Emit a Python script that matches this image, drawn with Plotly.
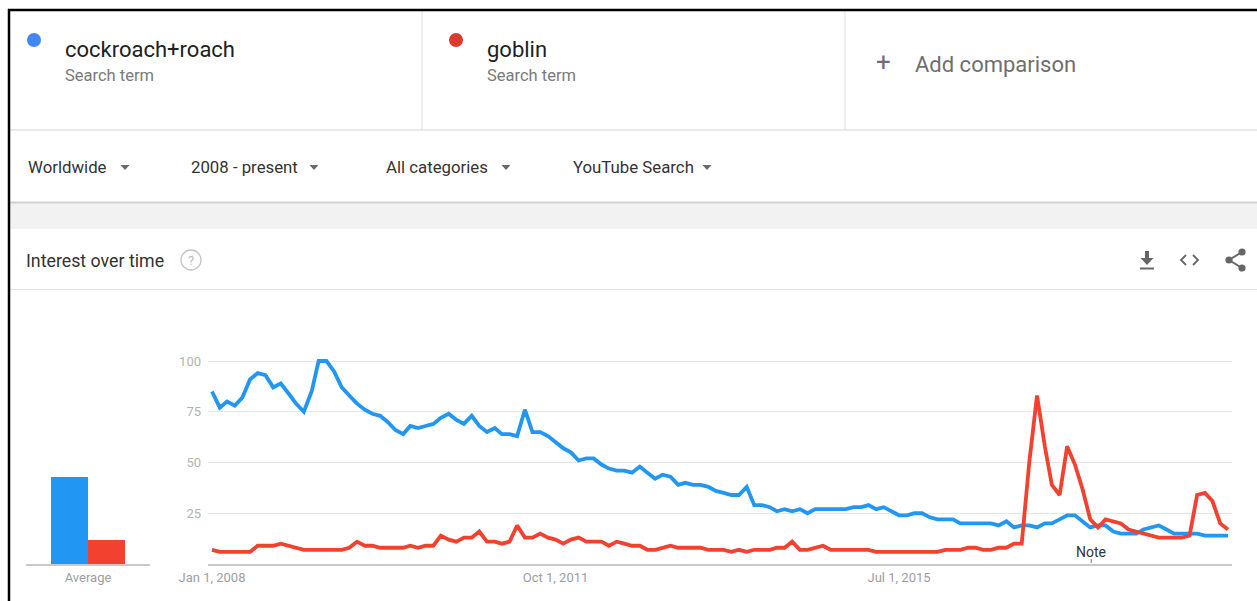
import plotly.graph_objects as go
import pandas as pd

W, H = 1257, 601

# ---------------- data ----------------
terms = ["cockroach+roach", "goblin"]
start_month = "2008-01-01"
cockroach = [85, 77, 80, 78, 82, 91, 94, 93, 87, 89, 84, 79, 75, 85, 100, 100, 95, 87, 83, 79,
             76, 74, 73, 70, 66, 64, 68, 67, 68, 69, 72, 74, 71, 69, 73, 68, 65, 67, 64, 64,
             63, 76, 65, 65, 63, 60, 57, 55, 51, 52, 52, 49, 47, 46, 46, 45, 48, 45, 42, 44,
             43, 39, 40, 39, 39, 38, 36, 35, 34, 34, 38, 29, 29, 28, 26, 27, 26, 27, 25, 27,
             27, 27, 27, 27, 28, 28, 29, 27, 28, 26, 24, 24, 25, 25, 23, 22, 22, 22, 20, 20,
             20, 20, 20, 19, 21, 18, 19, 19, 18, 20, 20, 22, 24, 24, 21, 18, 19, 19, 16, 15,
             15, 15, 17, 18, 19, 17, 15, 15, 15, 15, 14, 14, 14, 14]
goblin = [7, 6, 6, 6, 6, 6, 9, 9, 9, 10, 9, 8, 7, 7, 7, 7, 7, 7, 8, 11,
          9, 9, 8, 8, 8, 8, 9, 8, 9, 9, 14, 12, 11, 13, 13, 16, 11, 11, 10, 11,
          19, 13, 13, 15, 13, 12, 10, 12, 13, 11, 11, 11, 9, 11, 10, 9, 9, 7, 7, 8,
          9, 8, 8, 8, 8, 7, 7, 7, 6, 7, 6, 7, 7, 7, 8, 8, 11, 7, 7, 8,
          9, 7, 7, 7, 7, 7, 7, 6, 6, 6, 6, 6, 6, 6, 6, 6, 7, 7, 7, 8,
          8, 7, 7, 8, 8, 10, 10, 50, 83, 58, 39, 34, 58, 49, 37, 22, 18, 22, 21, 20,
          17, 16, 15, 14, 13, 13, 13, 13, 14, 34, 35, 31, 20, 17]
averages = [43, 12]
avg_label = "Average"
y_ticks = [25, 50, 75, 100]
x_tick_dates = ["2008-01-01", "2011-10-01", "2015-07-01"]
x_tick_text = ["Jan 1, 2008", "Oct 1, 2011", "Jul 1, 2015"]
filters = ["Worldwide", "2008 - present", "All categories", "YouTube Search"]
note_date = "2017-08-05"

months = pd.date_range(start_month, periods=len(cockroach), freq="MS")

BLUE = "#2196F3"
RED = "#F2412F"
DOT_BLUE = "#4285F4"
DOT_RED = "#DB3A2C"
FONT = "Roboto"


def X(p):
    return p / W


def Y(p):
    return 1 - p / H


fig = go.Figure()

fig.add_trace(go.Scatter(x=months, y=cockroach, mode="lines", name=terms[0],
                         line=dict(color=BLUE, width=3.8), xaxis="x", yaxis="y",
                         hoverinfo="skip"))
fig.add_trace(go.Scatter(x=months, y=goblin, mode="lines", name=terms[1],
                         line=dict(color=RED, width=3.8), xaxis="x", yaxis="y",
                         hoverinfo="skip"))
fig.add_trace(go.Bar(x=[0, 1], y=averages, marker=dict(color=[BLUE, RED], line=dict(width=0)),
                     width=1, xaxis="x2", yaxis="y2", hoverinfo="skip"))

y_top = 103
y_dom = [Y(564), Y(564 - 2.03 * y_top)]

shapes = []
annotations = []

# grey band between cards
shapes.append(dict(type="rect", xref="paper", yref="paper", x0=X(9), x1=1, y0=Y(229), y1=Y(203),
                   fillcolor="#f2f2f2", line=dict(width=0), layer="below"))
# shadow under filter row
shapes.append(dict(type="line", xref="paper", yref="paper", x0=X(9), x1=1, y0=Y(202.5), y1=Y(202.5),
                   line=dict(color="#cfcfcf", width=2)))
# header bottom
shapes.append(dict(type="line", xref="paper", yref="paper", x0=X(9), x1=1, y0=Y(130), y1=Y(130),
                   line=dict(color="#e2e2e2", width=1.5)))
# header dividers
for xd in (422, 845):
    shapes.append(dict(type="line", xref="paper", yref="paper", x0=X(xd), x1=X(xd), y0=Y(130), y1=Y(11),
                       line=dict(color="#e4e4e4", width=1.2)))
# separator under "Interest over time"
shapes.append(dict(type="line", xref="paper", yref="paper", x0=X(9), x1=1, y0=Y(289.5), y1=Y(289.5),
                   line=dict(color="#e4e4e4", width=1.2)))
# black frame
shapes.append(dict(type="line", xref="paper", yref="paper", x0=X(8), x1=1, y0=Y(10), y1=Y(10),
                   line=dict(color="black", width=2.5)))
shapes.append(dict(type="line", xref="paper", yref="paper", x0=X(9), x1=X(9), y0=0, y1=Y(9),
                   line=dict(color="black", width=2.5)))

# term dots
for cx, col in ((34, DOT_BLUE), (456, DOT_RED)):
    shapes.append(dict(type="circle", xref="paper", yref="paper",
                       x0=X(cx - 7), x1=X(cx + 7), y0=Y(40 + 7), y1=Y(40 - 7),
                       fillcolor=col, line=dict(width=0)))

# header text
for xt, term in ((63, terms[0]), (485, terms[1])):
    annotations.append(dict(x=X(xt), y=Y(49), xref="paper", yref="paper", text=term,
                            showarrow=False, xanchor="left", yanchor="middle",
                            font=dict(family=FONT, size=22, color="#212121")))
    annotations.append(dict(x=X(xt), y=Y(75), xref="paper", yref="paper", text="Search term",
                            showarrow=False, xanchor="left", yanchor="middle",
                            font=dict(family=FONT, size=16.5, color="#7a7a7a")))
annotations.append(dict(x=X(884), y=Y(62), xref="paper", yref="paper", text="+",
                        showarrow=False, xanchor="center", yanchor="middle",
                        font=dict(family=FONT, size=26, color="#6f6f6f")))
annotations.append(dict(x=X(913), y=Y(64), xref="paper", yref="paper", text="Add comparison",
                        showarrow=False, xanchor="left", yanchor="middle",
                        font=dict(family=FONT, size=22, color="#6f6f6f")))

# filter row
filter_x = [26, 189, 384, 571]
tri_x = [125, 314, 506, 707]
for fx, tx, ft in zip(filter_x, tri_x, filters):
    annotations.append(dict(x=X(fx), y=Y(167), xref="paper", yref="paper", text=ft,
                            showarrow=False, xanchor="left", yanchor="middle",
                            font=dict(family=FONT, size=16.8, color="#333333")))
    shapes.append(dict(type="path", xref="paper", yref="paper",
                       path=f"M {X(tx-4.5)} {Y(165)} L {X(tx+4.5)} {Y(165)} L {X(tx)} {Y(170)} Z",
                       fillcolor="#6a6a6a", line=dict(width=0)))

# card title
annotations.append(dict(x=X(24), y=Y(260), xref="paper", yref="paper", text="Interest over time",
                        showarrow=False, xanchor="left", yanchor="middle",
                        font=dict(family=FONT, size=17.8, color="#333333")))
shapes.append(dict(type="circle", xref="paper", yref="paper",
                   x0=X(181), x1=X(201), y0=Y(270), y1=Y(250),
                   line=dict(color="#c4c4c4", width=1.3)))
annotations.append(dict(x=X(191), y=Y(260), xref="paper", yref="paper", text="?",
                        showarrow=False, xanchor="center", yanchor="middle",
                        font=dict(family=FONT, size=13, color="#bdbdbd")))

# download icon
shapes.append(dict(type="rect", xref="paper", yref="paper", x0=X(1145), x1=X(1149),
                   y0=Y(259), y1=Y(251), fillcolor="#666", line=dict(width=0)))
shapes.append(dict(type="path", xref="paper", yref="paper",
                   path=f"M {X(1140.5)} {Y(258)} L {X(1153.5)} {Y(258)} L {X(1147)} {Y(265)} Z",
                   fillcolor="#666", line=dict(width=0)))
shapes.append(dict(type="line", xref="paper", yref="paper", x0=X(1140), x1=X(1154),
                   y0=Y(268.5), y1=Y(268.5), line=dict(color="#666", width=2)))
# embed icon (chevrons)
shapes.append(dict(type="path", xref="paper", yref="paper",
                   path=f"M {X(1186)} {Y(255)} L {X(1181)} {Y(260)} L {X(1186)} {Y(265)}",
                   line=dict(color="#666", width=1.8)))
shapes.append(dict(type="path", xref="paper", yref="paper",
                   path=f"M {X(1193)} {Y(255)} L {X(1198)} {Y(260)} L {X(1193)} {Y(265)}",
                   line=dict(color="#666", width=1.8)))
# share icon
pts = [(1242, 252), (1229, 260), (1242, 268)]
shapes.append(dict(type="path", xref="paper", yref="paper",
                   path=f"M {X(pts[0][0])} {Y(pts[0][1])} L {X(pts[1][0])} {Y(pts[1][1])} L {X(pts[2][0])} {Y(pts[2][1])}",
                   line=dict(color="#666", width=2)))
for (cx, cy) in pts:
    shapes.append(dict(type="circle", xref="paper", yref="paper",
                       x0=X(cx - 3.6), x1=X(cx + 3.6), y0=Y(cy + 3.6), y1=Y(cy - 3.6),
                       fillcolor="#666", line=dict(width=0)))

# Note marker
annotations.append(dict(x=note_date, y=Y(552), xref="x", yref="paper", text="Note",
                        showarrow=False, xanchor="center", yanchor="middle",
                        font=dict(family=FONT, size=14, color="#333333")))
shapes.append(dict(type="line", xref="x", yref="paper", x0=note_date, x1=note_date,
                   y0=Y(563), y1=Y(559), line=dict(color="#777", width=1)))

fig.update_layout(
    width=W, height=H, autosize=False,
    margin=dict(l=0, r=0, t=0, b=0, pad=0, autoexpand=False),
    paper_bgcolor="white", plot_bgcolor="rgba(0,0,0,0)",
    showlegend=False,
    font=dict(family=FONT),
    shapes=shapes, annotations=annotations,
    xaxis=dict(domain=[X(208), X(1232)], type="date",
               range=["2007-12-16", "2019-02-17"],
               tickvals=x_tick_dates, ticktext=x_tick_text,
               showgrid=False, zeroline=False,
               showline=True, linecolor="#c8c8c8", linewidth=2,
               ticks="", tickfont=dict(family=FONT, size=13, color="#9e9e9e"),
               anchor="y"),
    yaxis=dict(domain=y_dom, range=[0, y_top], tickvals=y_ticks,
               showgrid=True, gridcolor="#e6e6e6", gridwidth=1,
               zeroline=False, showline=False, ticks="",
               ticklabelstandoff=6,
               tickfont=dict(family=FONT, size=13, color="#b3b3b3"),
               anchor="x"),
    xaxis2=dict(domain=[X(26), X(150)], range=[-1.176, 2.176],
                tickvals=[0.5], ticktext=[avg_label], showgrid=False, zeroline=False,
                showline=True, linecolor="#c8c8c8", linewidth=2, ticks="",
                tickfont=dict(family=FONT, size=13, color="#9e9e9e"), anchor="y2"),
    yaxis2=dict(domain=y_dom, range=[0, y_top], showticklabels=False, showgrid=False,
                zeroline=False, showline=False, anchor="x2"),
    bargap=0,
)

fig.write_html("out.html", include_plotlyjs=True, config={"displayModeBar": False},
               post_script="document.body.style.margin='0';document.body.style.overflow='hidden';")
